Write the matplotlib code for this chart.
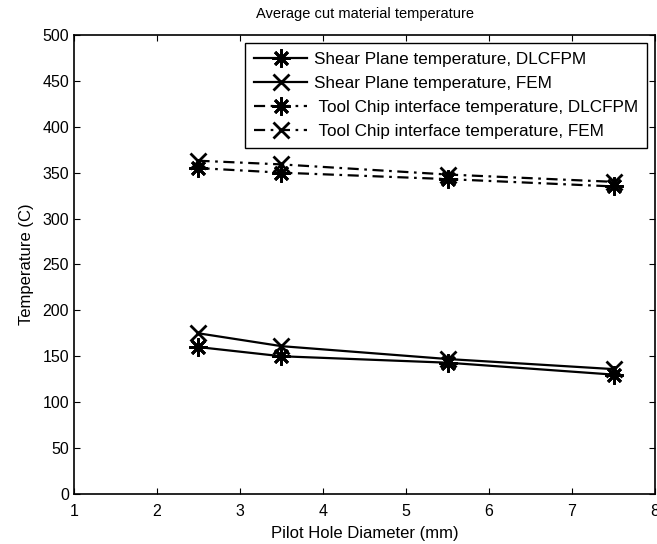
import matplotlib
matplotlib.use("Agg")
import matplotlib.pyplot as plt

plt.rcParams.update({"font.family": ["Liberation Sans", "DejaVu Sans"], "font.size": 10})

diam = [2.5, 3.5, 5.5, 7.5]
shear_dlcfpm = [160, 150, 143, 130]
shear_fem = [175, 161, 147, 136]
chip_dlcfpm = [355, 350, 343, 335]
chip_fem = [363, 359, 348, 340]

labels = ["Shear Plane temperature, DLCFPM",
          "Shear Plane temperature, FEM",
          " Tool Chip interface temperature, DLCFPM",
          " Tool Chip interface temperature, FEM"]

ast = (8, 2, 0)
dashdot = (0, (5, 2.5, 1.2, 2.5))

fig = plt.figure(figsize=(6.57, 5.44), dpi=100)
ax = fig.add_axes([0.1126, 0.092, 0.8844, 0.8437])
ax.plot(diam, shear_dlcfpm, color="k", lw=1.6, ls="-", marker=ast, ms=13, mew=2, label=labels[0])
ax.plot(diam, shear_fem, color="k", lw=1.6, ls="-", marker="x", ms=12, mew=2, label=labels[1])
ax.plot(diam, chip_dlcfpm, color="k", lw=1.6, ls=dashdot, marker=ast, ms=13, mew=2, label=labels[2])
ax.plot(diam, chip_fem, color="k", lw=1.6, ls=dashdot, marker="x", ms=12, mew=2, label=labels[3])

ax.set_xlim(1, 8)
ax.set_ylim(0, 500)
ax.set_xticks(range(1, 9))
ax.set_yticks(range(0, 501, 50))
ax.tick_params(direction="in", top=True, right=True, length=4, labelsize=11.5)
ax.tick_params(axis="x", pad=7)
for s in ax.spines.values():
    s.set_linewidth(1.2)
ax.set_xlabel("Pilot Hole Diameter (mm)", fontsize=12, labelpad=5)
ax.set_ylabel("Temperature (C)", fontsize=12, labelpad=6)
ax.set_title("Average cut material temperature", fontsize=10.5, pad=12)

leg = ax.legend(loc="upper right", fontsize=12.3, fancybox=False, edgecolor="k",
                framealpha=1, handlelength=3.1, handletextpad=0.4,
                borderaxespad=0.45, labelspacing=0.52, borderpad=0.55)
leg.get_frame().set_linewidth(1.0)

fig.savefig("out.png", dpi=100)
